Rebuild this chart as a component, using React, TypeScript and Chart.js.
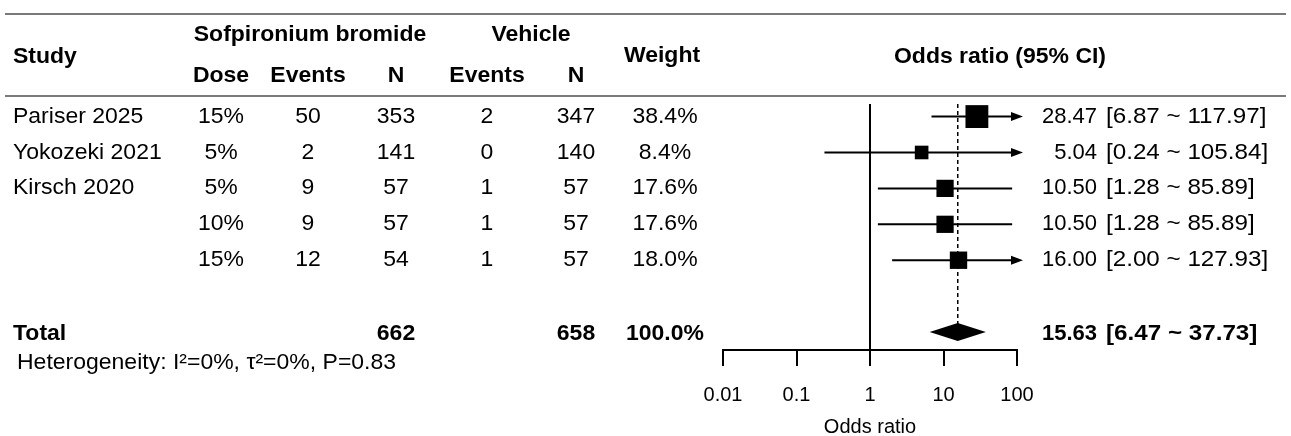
import React, { useEffect, useRef } from "react";
import { Chart, registerables } from "chart.js";

Chart.register(...registerables);

// ---------------- data ----------------
const studies = ["Pariser 2025", "Yokozeki 2021", "Kirsch 2020", "", ""];
const doses = ["15%", "5%", "5%", "10%", "15%"];
const activeEvents = [50, 2, 9, 9, 12];
const activeN = [353, 141, 57, 57, 54];
const vehicleEvents = [2, 0, 1, 1, 1];
const vehicleN = [347, 140, 57, 57, 57];
const weights = [38.4, 8.4, 17.6, 17.6, 18.0];
const oddsRatios = [28.47, 5.04, 10.5, 10.5, 16.0];
const ciLower = [6.87, 0.24, 1.28, 1.28, 2.0];
const ciUpper = [117.97, 105.84, 85.89, 85.89, 127.93];
const rowIndex = [1, 2, 3, 4, 5];
const totalRow = 7;
const totalActiveN = 662;
const totalVehicleN = 658;
const totalWeight = 100.0;
const pooledOR = 15.63;
const pooledLower = 6.47;
const pooledUpper = 37.73;
const heterogeneityText = "Heterogeneity: I\u00b2=0%, \u03c4\u00b2=0%, P=0.83";
const xTicks = [0.01, 0.1, 1, 10, 100];

// ---------------- style ----------------
const FONT = '"Liberation Sans", Arial, Helvetica, sans-serif';
const TEXT_SIZE = 22;
const STRETCH = 1.045;
const CI_STRETCH = 1.1;
const RULE_COLOR = "#7a7a7a";

const COL = {
  study: 13,
  dose: 221,
  events: 308,
  n: 396,
  vEvents: 487,
  vN: 576,
  weight: 665,
  orRight: 1097,
  ciLeft: 1106,
};

function squareSide(w: number) {
  return 5.5 + 2.8 * Math.sqrt(w);
}

function fmt2(v: number) {
  return v.toFixed(2);
}

function drawText(
  ctx: CanvasRenderingContext2D,
  s: string,
  x: number,
  y: number,
  align: CanvasTextAlign,
  bold = false,
  stretch = STRETCH
) {
  ctx.save();
  ctx.font = `${bold ? "bold " : ""}${TEXT_SIZE}px ${FONT}`;
  ctx.fillStyle = "#000";
  ctx.textBaseline = "middle";
  ctx.textAlign = align;
  ctx.translate(x, y);
  ctx.scale(stretch, 1);
  ctx.fillText(s, 0, 0);
  ctx.restore();
}

const forestPlugin = {
  id: "forest",
  beforeDatasetsDraw(chart: any) {
    const { ctx, chartArea, scales } = chart;
    const xs = scales.x;
    const ys = scales.y;
    ctx.save();
    ctx.strokeStyle = "#000";
    ctx.fillStyle = "#000";
    ctx.lineCap = "butt";

    // reference line at OR = 1
    const x1 = xs.getPixelForValue(1);
    ctx.lineWidth = 2;
    ctx.beginPath();
    ctx.moveTo(x1, chartArea.top);
    ctx.lineTo(x1, chartArea.bottom);
    ctx.stroke();

    // dashed pooled line
    const xp = xs.getPixelForValue(pooledOR);
    const yTot = ys.getPixelForValue(totalRow);
    ctx.lineWidth = 1.5;
    ctx.setLineDash([4, 3]);
    ctx.beginPath();
    ctx.moveTo(xp, chartArea.top);
    ctx.lineTo(xp, yTot + 10);
    ctx.stroke();
    ctx.setLineDash([]);

    // CI lines
    const tipX = xs.getPixelForValue(xs.max) + 6;
    const arrowLen = 12;
    const arrowHalf = 4.5;
    ctx.lineWidth = 2;
    for (let i = 0; i < oddsRatios.length; i++) {
      const y = ys.getPixelForValue(rowIndex[i]);
      const lo = xs.getPixelForValue(Math.max(ciLower[i], xs.min));
      if (ciUpper[i] > xs.max) {
        ctx.beginPath();
        ctx.moveTo(lo, y);
        ctx.lineTo(tipX - arrowLen + 1, y);
        ctx.stroke();
        ctx.beginPath();
        ctx.moveTo(tipX, y);
        ctx.lineTo(tipX - arrowLen, y - arrowHalf);
        ctx.lineTo(tipX - arrowLen, y + arrowHalf);
        ctx.closePath();
        ctx.fill();
      } else {
        const hi = xs.getPixelForValue(ciUpper[i]);
        ctx.beginPath();
        ctx.moveTo(lo, y);
        ctx.lineTo(hi, y);
        ctx.stroke();
      }
    }
    ctx.restore();
  },
  afterDatasetsDraw(chart: any) {
    const { ctx, scales } = chart;
    const xs = scales.x;
    const ys = scales.y;
    const y = ys.getPixelForValue(totalRow);
    ctx.save();
    ctx.fillStyle = "#000";
    ctx.beginPath();
    ctx.moveTo(xs.getPixelForValue(pooledLower), y);
    ctx.lineTo(xs.getPixelForValue(pooledOR), y - 9);
    ctx.lineTo(xs.getPixelForValue(pooledUpper), y);
    ctx.lineTo(xs.getPixelForValue(pooledOR), y + 9);
    ctx.closePath();
    ctx.fill();
    ctx.restore();
  },
  afterDraw(chart: any) {
    const { ctx, scales } = chart;
    const ys = scales.y;
    ctx.save();
    // rules
    ctx.strokeStyle = RULE_COLOR;
    ctx.lineWidth = 2;
    ctx.beginPath();
    ctx.moveTo(5, 14);
    ctx.lineTo(1286, 14);
    ctx.moveTo(5, 96);
    ctx.lineTo(1286, 96);
    ctx.stroke();
    ctx.restore();

    // header
    drawText(ctx, "Study", COL.study, 57, "left", true);
    drawText(ctx, "Sofpironium bromide", 310, 35, "center", true);
    drawText(ctx, "Dose", COL.dose, 76, "center", true);
    drawText(ctx, "Events", COL.events, 76, "center", true);
    drawText(ctx, "N", COL.n, 76, "center", true);
    drawText(ctx, "Vehicle", 531, 35, "center", true);
    drawText(ctx, "Events", COL.vEvents, 76, "center", true);
    drawText(ctx, "N", COL.vN, 76, "center", true);
    drawText(ctx, "Weight", 662, 56, "center", true);
    drawText(ctx, "Odds ratio (95% CI)", 1000, 57, "center", true);

    // rows
    for (let i = 0; i < studies.length; i++) {
      const y = ys.getPixelForValue(rowIndex[i]);
      if (studies[i]) drawText(ctx, studies[i], COL.study, y, "left");
      drawText(ctx, doses[i], COL.dose, y, "center");
      drawText(ctx, String(activeEvents[i]), COL.events, y, "center");
      drawText(ctx, String(activeN[i]), COL.n, y, "center");
      drawText(ctx, String(vehicleEvents[i]), COL.vEvents, y, "center");
      drawText(ctx, String(vehicleN[i]), COL.vN, y, "center");
      drawText(ctx, weights[i].toFixed(1) + "%", COL.weight, y, "center");
      drawText(ctx, fmt2(oddsRatios[i]), COL.orRight, y, "right", false, 1.0);
      drawText(
        ctx,
        `[${fmt2(ciLower[i])} ~ ${fmt2(ciUpper[i])}]`,
        COL.ciLeft,
        y,
        "left",
        false,
        CI_STRETCH
      );
    }

    // total
    const yt = ys.getPixelForValue(totalRow) + 2;
    drawText(ctx, "Total", COL.study, yt, "left", true);
    drawText(ctx, String(totalActiveN), COL.n, yt, "center", true);
    drawText(ctx, String(totalVehicleN), COL.vN, yt, "center", true);
    drawText(ctx, totalWeight.toFixed(1) + "%", COL.weight, yt, "center", true);
    drawText(ctx, fmt2(pooledOR), COL.orRight, yt, "right", true, 1.0);
    drawText(
      ctx,
      `[${fmt2(pooledLower)} ~ ${fmt2(pooledUpper)}]`,
      COL.ciLeft,
      yt,
      "left",
      true,
      CI_STRETCH
    );
    drawText(ctx, heterogeneityText, 17, yt + 29, "left");
  },
};

export default function App() {
  const canvasRef = useRef<HTMLCanvasElement | null>(null);

  useEffect(() => {
    const canvas = canvasRef.current;
    if (!canvas) return;
    const chart = new Chart(canvas, {
      type: "scatter",
      data: {
        datasets: [
          {
            data: oddsRatios.map((v, i) => ({ x: v, y: rowIndex[i] })),
            pointStyle: "rect",
            pointRadius: (c: any) => squareSide(weights[c.dataIndex]) / Math.SQRT2,
            pointHoverRadius: (c: any) => squareSide(weights[c.dataIndex]) / Math.SQRT2,
            backgroundColor: "#000",
            borderWidth: 0,
          },
        ],
      },
      options: {
        responsive: false,
        animation: false,
        devicePixelRatio: 1,
        layout: { padding: { left: 723, right: 274, top: 104, bottom: 0 } },
        plugins: {
          legend: { display: false },
          tooltip: { enabled: false },
        },
        scales: {
          x: {
            type: "logarithmic",
            min: 0.01,
            max: 100,
            afterBuildTicks: (scale: any) => {
              scale.ticks = xTicks.map((v) => ({ value: v }));
            },
            afterFit: (scale: any) => {
              scale.height = 86;
            },
            ticks: {
              autoSkip: false,
              maxRotation: 0,
              padding: 17,
              color: "#000",
              font: { family: FONT, size: 20 },
              callback: (v: any) => String(v),
            },
            grid: {
              drawOnChartArea: false,
              drawTicks: true,
              tickLength: 16,
              color: "#000",
              lineWidth: 2,
            },
            border: { display: true, color: "#000", width: 2 },
            title: {
              display: true,
              text: "Odds ratio",
              color: "#000",
              font: { family: FONT, size: 20 },
              padding: { top: 6, bottom: -3 },
            },
          },
          y: {
            type: "linear",
            reverse: true,
            min: 0.65,
            max: 7.5,
            display: false,
          },
        },
      },
      plugins: [forestPlugin],
    } as any);
    return () => chart.destroy();
  }, []);

  return (
    <div
      style={{
        position: "absolute",
        left: 0,
        top: 0,
        width: 1291,
        height: 436,
        background: "#fff",
      }}
    >
      <canvas ref={canvasRef} width={1291} height={436} />
    </div>
  );
}
